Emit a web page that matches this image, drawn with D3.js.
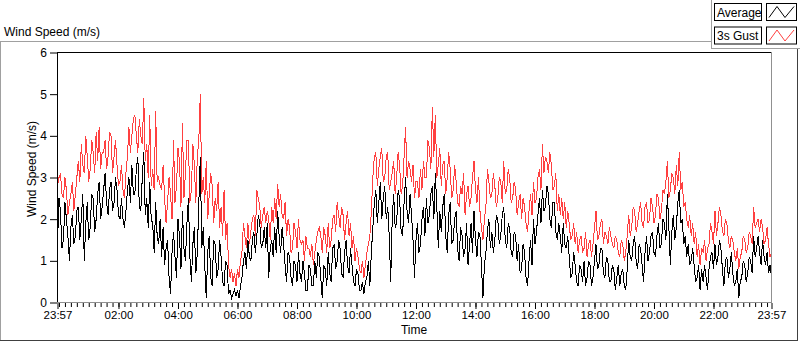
<!DOCTYPE html>
<html>
<head>
<meta charset="utf-8">
<script src="https://cdn.jsdelivr.net/npm/d3@7"></script>
<style>
  body { margin: 0; background: #fff; }
  svg text { font-family: "Liberation Sans", Arial, sans-serif; fill: #000; }
</style>
</head>
<body>
<div class="chart"></div>
<script>
// samples every 3 minutes, starting 23:57
const stepMinutes = 3

const gust = [
  2.8,3.0, 3.1,2.6, 2.5,3.0, 2.7,2.1, 2.4,2.6, 2.9,2.2, 2.6,3.0, 3.4,2.9, 3.8,3.3, 3.1,4.0,
  3.5,2.9, 3.2,3.9, 3.6,3.1, 4.1,3.4, 4.2,3.2, 3.6,3.6, 3.9,3.2, 3.5,4.1, 4.0,3.1, 3.5,3.9,
  3.3,2.8, 2.9,3.3, 2.7,2.5, 3.1,3.5, 4.2,3.6, 4.0,4.4, 4.5,4.0, 3.6,4.4, 4.0,3.8, 4.9,3.4,
  3.8,3.0, 4.5,2.8, 3.2,2.7, 4.6,2.9, 3.0,2.8, 2.7,3.3, 2.5,1.9, 2.4,3.0, 2.6,2.0, 3.9,2.4,
  2.8,3.7, 3.4,2.3, 4.3,2.5, 3.1,3.9, 3.9,2.4, 2.7,3.8, 3.3,2.4, 3.5,3.9, 5.0,2.6, 3.0,2.4,
  3.4,2.0, 2.6,3.1, 2.8,1.9, 2.5,2.2, 2.9,1.8, 2.3,1.6, 2.7,1.5, 1.9,0.9, 0.6,0.8, 0.5,0.7,
  0.4,0.8, 0.6,1.0, 1.2,1.9, 1.6,1.3, 1.9,1.4, 1.7,2.0, 2.1,1.6, 2.7,2.5, 2.3,1.8, 2.1,2.3,
  1.9,2.2, 2.0,1.5, 2.3,1.9, 2.5,2.0, 2.85,2.3, 2.6,2.1, 2.0,2.4, 1.6,2.0, 1.8,1.2, 1.3,1.9,
  1.7,1.3, 2.0,1.5, 1.4,1.5, 1.0,1.6, 1.3,1.3, 1.1,1.4, 0.9,1.2, 1.5,1.7, 1.8,1.6, 1.2,1.8,
  1.6,1.2, 1.9,1.3, 1.5,2.0, 2.1,1.7, 2.4,2.1, 1.8,2.3, 2.1,1.5, 1.9,2.2, 1.6,1.9, 1.3,1.6,
  1.0,1.3, 1.1,0.8, 0.7,1.0, 0.6,0.9, 1.2,1.4, 1.6,2.2, 3.0,3.5, 3.6,2.8, 3.2,3.5, 3.7,2.9,
  3.0,3.5, 3.6,2.7, 2.9,3.1, 3.4,2.6, 3.0,3.6, 3.3,2.6, 2.8,3.5, 4.2,3.0, 3.4,3.2, 2.9,3.3,
  2.5,2.9, 2.9,2.5, 3.2,2.7, 3.4,3.0, 3.0,3.9, 3.7,3.2, 4.7,3.5, 4.5,3.0, 3.3,3.7, 2.8,3.3,
  3.4,2.6, 3.0,3.6, 3.2,2.5, 2.7,3.3, 2.9,2.4, 2.3,2.8, 2.6,3.1, 2.1,2.6, 2.8,2.3, 2.5,3.0,
  3.4,2.7, 2.4,3.0, 2.2,1.8, 1.5,2.0, 2.3,3.2, 2.9,2.5, 2.6,3.1, 2.8,2.3, 2.5,3.0, 2.9,2.4,
  3.4,2.6, 2.7,3.2, 3.0,2.4, 2.5,2.9, 2.7,2.1, 2.4,2.6, 2.0,2.5, 2.3,1.9, 1.7,2.2, 2.6,2.1,
  2.9,2.4, 2.5,3.0, 3.2,2.7, 3.8,3.1, 3.5,3.4, 3.1,3.6, 3.3,2.7, 2.8,3.1, 2.2,2.6, 2.1,2.5,
  2.0,2.4, 1.8,2.2, 1.9,1.5, 1.6,1.9, 1.4,1.7, 1.2,1.5, 1.6,1.2, 1.3,1.7, 1.1,1.4, 1.5,1.1,
  1.4,1.8, 2.2,1.5, 1.6,1.9, 2.0,1.4, 1.7,1.6, 1.4,1.8, 1.6,1.4, 1.3,1.6, 1.5,1.2, 1.1,1.5,
  1.4,1.0, 1.2,1.6, 2.1,1.6, 1.8,2.3, 2.2,1.7, 1.9,2.2, 2.4,1.9, 1.8,2.3, 2.4,1.9, 2.0,2.5,
  2.3,1.9, 2.1,2.6, 2.5,2.0, 2.2,2.7, 2.6,2.9, 3.4,2.5, 2.7,3.1, 3.0,2.6, 3.3,2.8, 3.6,2.7,
  2.9,2.3, 2.4,2.0, 1.8,2.1, 1.6,1.9, 1.4,1.7, 1.1,1.4, 0.9,1.3, 1.2,1.5, 1.0,1.3, 1.4,1.9,
  1.7,1.4, 2.2,1.6, 1.9,2.3, 2.1,1.7, 1.6,2.0, 1.9,1.5, 1.3,1.6, 1.5,1.2, 1.0,1.3, 0.8,1.1,
  1.2,1.6, 1.5,1.2, 1.3,1.7, 1.6,1.4, 2.3,1.8, 1.9,2.0, 1.7,2.0, 1.8,1.4, 1.5,1.8, 1.4,1.1,
  1.2
]

const average = [
  1.4,2.5, 2.2,1.3, 1.5,2.4, 2.0,1.6, 1.0,1.8, 2.1,1.4, 1.6,2.2, 2.3,1.5, 2.0,2.6, 1.0,1.9,
  2.4,1.5, 1.8,2.6, 2.5,1.7, 2.0,2.6, 2.9,2.0, 2.3,2.7, 3.1,2.4, 2.1,2.7, 2.9,2.2, 2.4,3.0,
  2.7,2.1, 2.0,2.5, 2.0,1.8, 2.2,2.7, 3.0,2.4, 3.3,2.6, 2.6,3.2, 3.5,2.3, 2.2,3.0, 3.6,2.1,
  2.5,1.8, 2.9,2.0, 1.9,1.2, 2.4,1.6, 1.4,2.0, 1.1,1.8, 0.9,1.3, 1.5,0.6, 0.2,1.2, 1.7,1.1,
  0.6,2.0, 1.6,0.8, 2.2,1.3, 1.0,1.9, 2.5,1.1, 0.5,1.4, 1.8,0.7, 1.2,2.4, 3.5,1.3, 1.8,0.9,
  0.1,1.2, 1.6,0.6, 0.4,1.5, 1.4,0.6, 0.8,1.5, 1.1,0.5, 0.4,1.0, 0.9,0.2, 0.3,0.1, 0.2,0.3,
  0.15,0.3, 0.1,0.4, 0.6,1.0, 1.2,0.8, 1.5,1.1, 1.0,1.5, 1.7,1.2, 1.6,2.1, 1.9,1.3, 1.4,1.8,
  1.3,1.9, 0.6,1.3, 1.5,1.1, 1.8,1.2, 2.2,1.6, 1.2,1.8, 1.4,0.9, 0.5,1.2, 1.1,0.6, 0.4,1.0,
  0.9,0.5, 1.2,0.7, 0.5,1.0, 0.7,0.3, 0.3,0.9, 0.8,0.4, 0.4,1.0, 0.6,1.2, 1.1,0.6, 0.1,0.9,
  0.8,0.4, 1.2,0.7, 0.5,1.3, 1.4,0.8, 1.0,1.5, 1.3,0.7, 0.6,1.2, 1.5,0.9, 0.7,1.3, 0.9,0.5,
  0.4,0.8, 0.7,0.3, 0.3,0.5, 0.2,0.5, 0.6,1.0, 0.4,1.2, 1.8,2.4, 2.7,1.9, 2.4,2.9, 2.0,2.5,
  2.8,2.0, 2.3,1.6, 0.5,2.0, 2.6,1.8, 1.9,2.7, 2.5,1.7, 1.6,2.4, 3.0,2.2, 1.9,2.6, 2.1,1.5,
  0.6,1.5, 1.9,1.2, 1.4,2.0, 2.3,1.6, 2.5,1.9, 2.1,2.6, 2.8,2.0, 3.1,2.3, 1.3,2.2, 1.7,2.3,
  2.6,1.6, 1.2,2.1, 2.4,1.4, 1.5,2.0, 2.2,1.3, 1.0,1.8, 1.6,1.1, 1.3,1.9, 0.9,1.4, 1.9,1.2,
  2.2,1.5, 1.1,1.7, 1.6,0.9, 0.1,0.9, 1.2,1.7, 2.0,1.3, 1.7,1.2, 1.5,2.1, 2.0,1.4, 1.6,2.1,
  2.3,1.5, 1.3,1.9, 1.8,1.2, 1.1,1.7, 1.6,1.0, 1.4,0.7, 0.8,1.4, 1.2,0.6, 0.4,1.0, 1.5,0.9,
  2.0,1.4, 1.7,2.1, 2.5,1.9, 2.7,2.2, 2.3,2.8, 2.6,2.0, 1.8,2.4, 2.4,1.7, 1.5,1.9, 1.6,1.2,
  1.9,1.4, 1.3,1.6, 1.1,0.6, 0.7,1.2, 0.9,0.5, 0.4,0.9, 0.8,0.5, 1.0,0.4, 0.6,1.0, 0.9,0.4,
  0.6,1.0, 1.4,0.8, 0.9,1.3, 1.3,0.7, 0.6,1.1, 1.0,0.5, 0.5,0.9, 0.8,0.3, 0.6,0.9, 0.4,0.7,
  0.8,0.4, 0.3,0.8, 1.5,1.1, 1.0,1.4, 1.6,1.0, 0.8,1.4, 1.3,0.9, 0.5,1.2, 1.6,1.0, 1.2,1.6,
  1.7,1.2, 1.1,1.6, 1.9,1.3, 1.4,2.0, 1.9,1.5, 2.6,1.8, 0.9,1.7, 2.1,1.5, 1.8,2.4, 2.7,1.9,
  2.0,1.4, 1.6,1.1, 1.4,0.9, 1.0,1.3, 0.9,0.5, 0.6,0.9, 0.3,0.8, 0.5,0.9, 0.6,0.3, 0.8,1.1,
  1.2,0.8, 1.4,0.9, 1.1,1.5, 1.3,0.8, 0.4,1.0, 1.1,0.6, 0.8,1.2, 0.7,0.4, 0.5,0.8, 0.1,0.5,
  0.6,1.0, 0.9,0.5, 0.7,1.1, 1.0,0.7, 1.6,1.1, 1.3,1.6, 1.2,0.9, 1.5,1.1, 0.9,1.2, 0.7,0.9,
  0.6
]

const yTicks = [0, 1, 2, 3, 4, 5, 6]
const xTickHours = [2, 4, 6, 8, 10, 12, 14, 16, 18, 20, 22]
const legendItems = [
  { name: 'Average', color: '#000000' },
  { name: '3s Gust', color: '#ff4040' }
]

const width = 800
const height = 342

const start = new Date(2020, 0, 1, 23, 57)
const end = new Date(2020, 0, 2, 23, 57)
const timeAt = i => new Date(start.getTime() + i * stepMinutes * 60000)

const svg = d3.select('.chart')
  .append('svg')
  .attr('width', width)
  .attr('height', height)

// outer panel
svg.append('line').attr('x1', 0).attr('x2', 798).attr('y1', 41.5).attr('y2', 41.5).attr('stroke', '#a0a0a0')
svg.append('line').attr('x1', 0.5).attr('x2', 0.5).attr('y1', 41.5).attr('y2', 341).attr('stroke', '#a0a0a0')
svg.append('line').attr('x1', 0).attr('x2', 798).attr('y1', 340.5).attr('y2', 340.5).attr('stroke', '#404040')
svg.append('line').attr('x1', 797.5).attr('x2', 797.5).attr('y1', 41.5).attr('y2', 341).attr('stroke', '#404040')

svg.append('text')
  .attr('x', 4)
  .attr('y', 36)
  .style('font-size', '12px')
  .text('Wind Speed (m/s)')

const x = d3.scaleTime()
  .domain([start, end])
  .range([57.5, 771.5])

const y = d3.scaleLinear()
  .domain([0, 6])
  .range([302.5, 52.5])

const plot = svg.append('g')

const line = d3.line()
  .x((d, i) => x(timeAt(i)))
  .y(d => y(d))

// LabVIEW draws its plots without antialiasing
plot.append('path')
  .datum(gust)
  .attr('fill', 'none')
  .attr('stroke', '#ff4040')
  .attr('stroke-width', 1)
  .attr('shape-rendering', 'crispEdges')
  .attr('d', line)

plot.append('path')
  .datum(average)
  .attr('fill', 'none')
  .attr('stroke', '#000')
  .attr('stroke-width', 1)
  .attr('shape-rendering', 'crispEdges')
  .attr('d', line)

// plot frame: dark top/left, grey bottom/right
svg.append('line').attr('x1', 57).attr('x2', 772).attr('y1', 52.5).attr('y2', 52.5).attr('stroke', '#000')
svg.append('line').attr('x1', 57.5).attr('x2', 57.5).attr('y1', 52).attr('y2', 303).attr('stroke', '#000')
svg.append('line').attr('x1', 57).attr('x2', 772).attr('y1', 302.5).attr('y2', 302.5).attr('stroke', '#909090')
svg.append('line').attr('x1', 771.5).attr('x2', 771.5).attr('y1', 52).attr('y2', 303).attr('stroke', '#909090')

// y axis
const yAxis = svg.append('g')
  .attr('transform', 'translate(57,0)')
  .call(d3.axisLeft(y).tickValues(yTicks).tickSize(7).tickPadding(3).tickFormat(d3.format('d')))
yAxis.select('.domain').remove()
yAxis.selectAll('text').style('font-size', '12px')

svg.append('text')
  .attr('transform', 'translate(36,169) rotate(-90)')
  .attr('text-anchor', 'middle')
  .style('font-size', '12px')
  .text('Wind Speed (m/s)')

// x axis: major and minor ticks
const majorTicks = [start].concat(xTickHours.map(h => new Date(2020, 0, 2, h, 0)), [end])
const minorTicks = d3.timeMinute.every(12).range(new Date(2020, 0, 2, 0, 0), end)

const xMinor = svg.append('g')
  .attr('transform', 'translate(0,303)')
  .call(d3.axisBottom(x).tickValues(minorTicks).tickSize(4).tickFormat(''))
xMinor.select('.domain').remove()

const xAxis = svg.append('g')
  .attr('transform', 'translate(0,303)')
  .call(d3.axisBottom(x).tickValues(majorTicks).tickSize(6).tickPadding(2)
    .tickFormat(d3.timeFormat('%H:%M')))
xAxis.select('.domain').remove()
xAxis.selectAll('text').style('font-size', '11.5px')

svg.append('text')
  .attr('x', 414)
  .attr('y', 334)
  .attr('text-anchor', 'middle')
  .style('font-size', '12px')
  .text('Time')

// legend
const legend = svg.append('g')
legend.append('rect')
  .attr('x', 711.5).attr('y', -1)
  .attr('width', 90).attr('height', 49.5)
  .attr('fill', '#fff')
  .attr('stroke', '#a0a0a0')

const item = legend.selectAll('.item')
  .data(legendItems)
  .join('g')
  .attr('class', 'item')
  .attr('transform', (d, i) => `translate(0,${i * 23.5})`)

item.append('rect')
  .attr('x', 714.5).attr('y', 3.5)
  .attr('width', 47).attr('height', 17)
  .attr('fill', '#fff')
  .attr('stroke', '#000')

item.append('text')
  .attr('x', 717)
  .attr('y', 16.5)
  .style('font-size', '12px')
  .text(d => d.name)

item.append('rect')
  .attr('x', 766.5).attr('y', 3.5)
  .attr('width', 30).attr('height', 17)
  .attr('fill', '#fff')
  .attr('stroke', '#000')

item.append('path')
  .attr('fill', 'none')
  .attr('stroke', d => d.color)
  .attr('d', 'M769,17.5 L777,6.5 L785,17.5 L794,6.5')
</script>
</body>
</html>
